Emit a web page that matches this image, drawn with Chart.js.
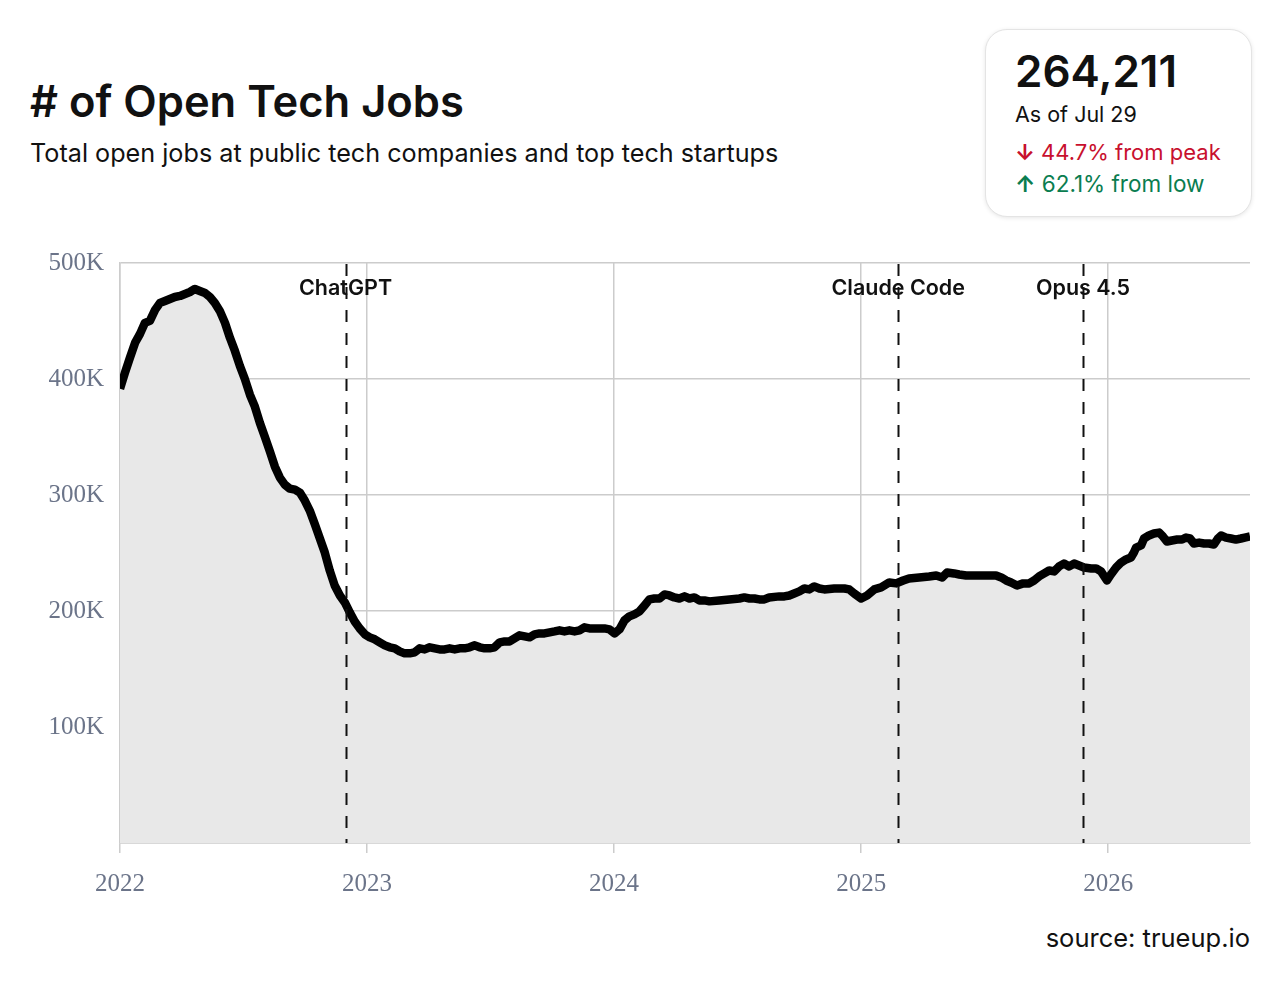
<!DOCTYPE html>
<html>
<head>
<meta charset="utf-8">
<script src="https://cdn.jsdelivr.net/npm/chart.js@4.4.1/dist/chart.umd.min.js"></script>
<style>
  html, body { margin: 0; padding: 0; background: #ffffff; }
  body { width: 1280px; height: 985px; position: relative; overflow: hidden; font-family: Inter, "Noto Sans", sans-serif; color: #111; }
  .abs { position: absolute; white-space: nowrap; line-height: 1; }
  #title { left: 30px; top: 80px; font-size: 43.5px; font-weight: 600; color: #111; }
  #subtitle { left: 30px; top: 141px; font-size: 25.2px; font-weight: 400; color: #111; }
  #box { position: absolute; left: 985px; top: 29px; width: 265px; height: 186px; border: 1px solid #e4e4e4; border-radius: 22px; box-shadow: 0 1px 4px rgba(0,0,0,0.10); background: #fff; }
  #num { left: 1015px; top: 49px; font-size: 44px; font-weight: 600; color: #111; }
  #asof { left: 1015px; top: 104px; font-size: 21.5px; color: #111; }
  #peak { left: 1015px; top: 141px; font-size: 22px; color: #c8102e; }
  #low { left: 1015px; top: 173px; font-size: 22.5px; color: #0a7d50; }
  .arr { font-weight: 700; }
  #source { right: 30px; top: 925px; font-size: 25.5px; color: #111; }
  #wrap { position: absolute; left: 0; top: 232px; width: 1280px; height: 688px; }
</style>
</head>
<body>
<div id="title" class="abs"># of Open Tech Jobs</div>
<div id="subtitle" class="abs">Total open jobs at public tech companies and top tech startups</div>
<div id="box"></div>
<div id="num" class="abs">264,211</div>
<div id="asof" class="abs">As of Jul 29</div>
<div id="peak" class="abs"><span class="arr">↓</span> 44.7% from peak</div>
<div id="low" class="abs"><span class="arr">↑</span> 62.1% from low</div>
<div id="wrap"><canvas id="c" width="1280" height="688"></canvas></div>
<div id="source" class="abs">source: trueup.io</div>
<script>
// Dates as decimal years, values in thousands of open jobs
const dates = [
  2022.000, 2022.020, 2022.040, 2022.061, 2022.081, 2022.101, 2022.121, 2022.142, 2022.162, 2022.182,
  2022.202, 2022.222, 2022.243, 2022.263, 2022.283, 2022.303, 2022.323, 2022.344, 2022.364, 2022.384,
  2022.404, 2022.425, 2022.445, 2022.465, 2022.485, 2022.505, 2022.526, 2022.546, 2022.566, 2022.586,
  2022.607, 2022.627, 2022.647, 2022.667, 2022.687, 2022.708, 2022.728, 2022.748, 2022.768, 2022.789,
  2022.809, 2022.829, 2022.849, 2022.869, 2022.890, 2022.910, 2022.930, 2022.950, 2022.970, 2022.991,
  2023.011, 2023.031, 2023.051, 2023.072, 2023.092, 2023.112, 2023.132, 2023.152, 2023.173, 2023.193,
  2023.213, 2023.233, 2023.254, 2023.274, 2023.294, 2023.314, 2023.334, 2023.355, 2023.375, 2023.395,
  2023.415, 2023.436, 2023.456, 2023.476, 2023.496, 2023.516, 2023.537, 2023.557, 2023.577, 2023.597,
  2023.617, 2023.638, 2023.658, 2023.678, 2023.698, 2023.718, 2023.739, 2023.759, 2023.779, 2023.799,
  2023.819, 2023.840, 2023.860, 2023.880, 2023.900, 2023.921, 2023.941, 2023.961, 2023.981, 2024.002,
  2024.022, 2024.042, 2024.062, 2024.082, 2024.103, 2024.123, 2024.143, 2024.163, 2024.184, 2024.204,
  2024.224, 2024.244, 2024.264, 2024.285, 2024.305, 2024.325, 2024.345, 2024.366, 2024.386, 2024.426,
  2024.467, 2024.507, 2024.527, 2024.548, 2024.568, 2024.588, 2024.608, 2024.628, 2024.669, 2024.689,
  2024.709, 2024.729, 2024.750, 2024.770, 2024.790, 2024.810, 2024.831, 2024.851, 2024.891, 2024.932,
  2024.952, 2024.972, 2025.000, 2025.024, 2025.053, 2025.081, 2025.114, 2025.142, 2025.170, 2025.194,
  2025.235, 2025.275, 2025.304, 2025.328, 2025.348, 2025.376, 2025.397, 2025.425, 2025.449, 2025.498,
  2025.546, 2025.567, 2025.587, 2025.607, 2025.631, 2025.656, 2025.680, 2025.700, 2025.720, 2025.741,
  2025.761, 2025.781, 2025.801, 2025.821, 2025.842, 2025.862, 2025.882, 2025.902, 2025.931, 2025.951,
  2025.971, 2025.995, 2026.011, 2026.032, 2026.052, 2026.072, 2026.092, 2026.104, 2026.113, 2026.133,
  2026.145, 2026.165, 2026.185, 2026.206, 2026.222, 2026.238, 2026.258, 2026.279, 2026.299, 2026.315,
  2026.331, 2026.347, 2026.368, 2026.388, 2026.408, 2026.428, 2026.444, 2026.457, 2026.477, 2026.497,
  2026.517, 2026.537, 2026.553, 2026.574
];
const jobsK = [
  391.6, 405.3, 418.2, 431.2, 438.9, 448.4, 450.1, 459.6, 465.6, 467.3,
  469.0, 470.7, 471.6, 473.3, 475.0, 477.6, 475.9, 474.2, 470.7, 465.6,
  458.7, 448.4, 435.5, 424.3, 411.4, 400.2, 386.4, 376.1, 362.3, 350.3,
  337.3, 324.4, 315.0, 308.9, 305.5, 304.6, 302.1, 295.2, 286.6, 274.5,
  262.5, 250.4, 234.9, 222.0, 213.4, 207.4, 198.8, 191.0, 185.0, 179.9,
  177.3, 175.6, 173.0, 170.4, 168.7, 167.8, 165.2, 163.5, 163.5, 164.4,
  167.8, 166.9, 168.7, 167.8, 166.9, 166.9, 167.8, 166.9, 167.8, 167.8,
  168.7, 170.4, 168.7, 167.8, 167.8, 168.7, 173.0, 173.8, 173.8, 176.4,
  179.0, 178.1, 177.3, 179.9, 180.7, 180.7, 181.6, 182.4, 183.3, 182.4,
  183.3, 182.4, 183.3, 185.9, 185.0, 185.0, 185.0, 185.0, 184.2, 180.7,
  184.2, 191.9, 195.4, 197.1, 199.7, 204.8, 210.0, 210.8, 210.8, 214.3,
  213.4, 211.7, 210.8, 212.6, 210.8, 211.7, 209.1, 209.1, 208.3, 209.1,
  210.0, 210.8, 211.7, 210.8, 210.8, 210.0, 210.0, 211.7, 212.6, 212.6,
  213.4, 215.1, 216.9, 219.4, 218.6, 221.2, 219.4, 218.6, 219.4, 219.4,
  218.6, 215.1, 210.8, 213.4, 218.6, 220.3, 224.6, 223.8, 226.3, 228.1,
  228.9, 229.8, 230.6, 228.9, 233.2, 232.4, 231.5, 230.6, 230.6, 230.6,
  230.6, 228.9, 226.3, 224.6, 222.0, 223.8, 223.8, 226.3, 229.8, 232.4,
  234.9, 234.1, 238.4, 240.9, 238.4, 240.9, 239.2, 237.5, 236.7, 236.7,
  234.1, 226.3, 231.5, 237.5, 241.8, 244.4, 246.1, 250.4, 254.7, 256.5,
  262.5, 265.1, 266.8, 267.6, 264.2, 259.9, 260.8, 261.6, 261.6, 263.3,
  262.5, 258.2, 259.0, 258.2, 258.2, 257.3, 262.5, 265.1, 263.3, 262.5,
  261.6, 262.5, 263.3, 264.211
];
const yearTicks = [2022, 2023, 2024, 2025, 2026];
const yTicksK = [100, 200, 300, 400, 500];
const eventLabels = ["ChatGPT", "Claude Code", "Opus 4.5"];
const eventDates = [2022.913, 2025.150, 2025.898];

const points = dates.map((d, i) => ({ x: d, y: jobsK[i] }));

const eventPlugin = {
  id: 'events',
  afterDatasetsDraw(chart) {
    const { ctx, chartArea, scales } = chart;
    ctx.save();
    ctx.font = '600 21.5px Inter, "Noto Sans", sans-serif';
    ctx.fillStyle = '#111';
    ctx.textAlign = 'center';
    ctx.textBaseline = 'middle';
    eventDates.forEach((d, i) => {
      const x = scales.x.getPixelForValue(d);
      ctx.fillText(eventLabels[i], x, chartArea.top + 26);
    });
    ctx.strokeStyle = '#111';
    ctx.lineWidth = 2;
    ctx.setLineDash([12, 11]);
    eventDates.forEach((d) => {
      const x = Math.round(scales.x.getPixelForValue(d)) + 0.5;
      ctx.beginPath();
      ctx.moveTo(x, chartArea.top + 1);
      ctx.lineTo(x, chartArea.bottom);
      ctx.stroke();
    });
    ctx.restore();
  }
};

new Chart(document.getElementById('c'), {
  type: 'line',
  data: {
    datasets: [{
      data: points,
      borderColor: '#000',
      borderWidth: 8.5,
      backgroundColor: '#e8e8e8',
      fill: 'origin',
      pointRadius: 0,
      tension: 0,
      borderJoinStyle: 'round',
      borderCapStyle: 'butt'
    }]
  },
  options: {
    responsive: false,
    animation: false,
    devicePixelRatio: 1,
    layout: { padding: { top: 14, right: 30, left: 0, bottom: 0 } },
    plugins: { legend: { display: false }, tooltip: { enabled: false } },
    scales: {
      x: {
        type: 'linear',
        min: dates[0],
        max: dates[dates.length - 1],
        afterBuildTicks(scale) { scale.ticks = yearTicks.map(v => ({ value: v })); },
        afterFit(scale) { scale.height = 77; },
        ticks: {
          padding: 16,
          color: '#6b7489',
          font: { family: '"Liberation Serif", "Times New Roman", serif', size: 25 },
          callback: (v) => String(v),
          maxRotation: 0
        },
        grid: { color: '#cccccc', lineWidth: 1.5, tickLength: 10, drawTicks: true },
        border: { color: '#cccccc', width: 1.5 }
      },
      y: {
        min: 0,
        max: 500,
        afterBuildTicks(scale) { scale.ticks = [0].concat(yTicksK).map(v => ({ value: v })); },
        afterFit(scale) { scale.width = 120; },
        ticks: {
          padding: 16,
          color: '#6b7489',
          font: { family: '"Liberation Serif", "Times New Roman", serif', size: 25 },
          callback: (v) => (v === 0 ? '' : v + 'K')
        },
        grid: { color: '#cccccc', lineWidth: 1.5, drawTicks: false },
        border: { color: '#cccccc', width: 1.5 }
      }
    }
  },
  plugins: [eventPlugin]
});
</script>
</body>
</html>
